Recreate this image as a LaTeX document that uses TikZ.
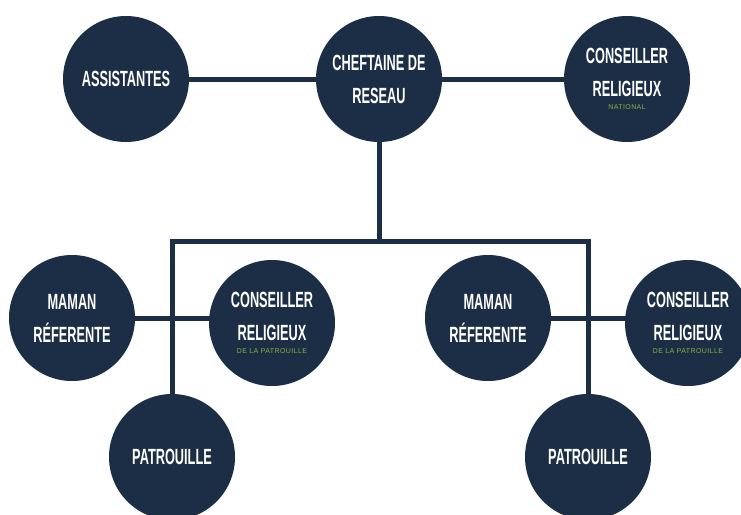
\documentclass[tikz,border=0pt]{standalone}
\usepackage{fontspec}
\usetikzlibrary{backgrounds}
\newfontfamily\headfont[FakeStretch=0.58]{Liberation Sans}
\newfontfamily\tagfont[LetterSpace=6]{Liberation Sans}
\definecolor{navy}{RGB}{27,46,69}
\definecolor{leaf}{RGB}{138,179,63}
\newcommand{\smalltag}[1]{{\tagfont\mdseries\fontsize{7}{8}\selectfont\color{leaf}#1}}
\tikzset{
  bubble/.style={circle,fill=navy,minimum size=126pt,inner sep=0pt,text=white,align=center,
    font=\headfont\bfseries\fontsize{22}{33}\selectfont},
  link/.style={draw=navy,line width=5pt}
}
\begin{document}
\begin{tikzpicture}[x=1pt,y=-1pt]
\useasboundingbox (0,0) rectangle (741,514);
\clip (0,0) rectangle (741,514);
\node[bubble] (assist) at (126,79) {ASSISTANTES};
\node[bubble] (chef) at (379,79) {CHEFTAINE DE\\RESEAU};
\node[bubble] (natl) at (627,79) {CONSEILLER\\RELIGIEUX\\[-20pt]\smalltag{NATIONAL}};
\coordinate (bar) at (0,241);
\node[bubble] (mamL) at (72,318) {MAMAN\\RÉFERENTE};
\node[bubble] (consL) at (272,323) {CONSEILLER\\RELIGIEUX\\[-20pt]\smalltag{DE LA PATROUILLE}};
\node[bubble] (patL) at (172,457) {PATROUILLE};
\node[bubble] (mamR) at (488,318) {MAMAN\\RÉFERENTE};
\node[bubble] (consR) at (688,323) {CONSEILLER\\RELIGIEUX\\[-20pt]\smalltag{DE LA PATROUILLE}};
\node[bubble] (patR) at (588,457) {PATROUILLE};
\begin{scope}[on background layer]
\draw[link] (assist.center) -- (natl.center);
\draw[link] (chef.center) -- (chef.center |- bar);
\draw[link] (patL.center) -- (patL.center |- bar) -- (patR.center |- bar) -- (patR.center);
\draw[link] (mamL.center) -- (mamL.center -| consL.center);
\draw[link] (mamR.center) -- (mamR.center -| consR.center);
\end{scope}
\end{tikzpicture}
\end{document}
